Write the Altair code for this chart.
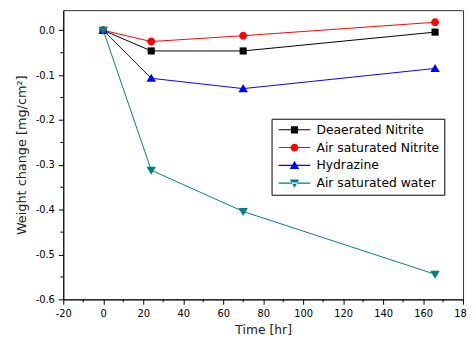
import json
import altair as alt
import pandas as pd

times = [0, 24, 70, 166]
series_names = ["Deaerated Nitrite", "Air saturated Nitrite", "Hydrazine", "Air saturated water"]
deaerated = [0.0, -0.046, -0.046, -0.004]
air_nitrite = [0.0, -0.025, -0.012, 0.018]
hydrazine = [0.0, -0.107, -0.130, -0.085]
air_water = [0.0, -0.312, -0.404, -0.544]
colors = ["#000000", "#ff0000", "#0000ff", "#008080"]
marker_shapes = ["M-0.9,-0.9H0.9V0.9H-0.9Z",
                 "M1,0A1,1,0,1,1,-1,0A1,1,0,1,1,1,0Z",
                 "M0,-1.15L1.2,0.9H-1.2Z",
                 "M0,1.15L1.2,-0.9H-1.2Z"]

x_major = [-20, 0, 20, 40, 60, 80, 100, 120, 140, 160, 180]
x_minor = [-10, 10, 30, 50, 70, 90, 110, 130, 150, 170]
y_major = [-0.6, -0.5, -0.4, -0.3, -0.2, -0.1, 0.0]
y_minor = [-0.55, -0.45, -0.35, -0.25, -0.15, -0.05]

rows = []
for name, vals in zip(series_names, [deaerated, air_nitrite, hydrazine, air_water]):
    for t, v in zip(times, vals):
        rows.append({"series": name, "time": t, "value": v})
df = pd.DataFrame(rows)

# legend symbols: thin filled bar (the line) + the marker
legend_shapes = ["M-4,-0.13H4V0.13H-4Z" + s for s in marker_shapes]

W, H = 405, 293
FONT = "DejaVu Sans"
xscale = alt.Scale(domain=[-20, 180], nice=False, zero=False)
yscale = alt.Scale(domain=[-0.6, 0.045], nice=False, zero=False)
cscale = alt.Scale(domain=series_names, range=colors)

x_enc = alt.X("time:Q", scale=xscale, axis=alt.Axis(
    values=x_major, title="Time [hr]", grid=False, tickSize=5, titleFontSize=12.5,
    labelExpr="datum.value < 0 ? '-' + format(-datum.value, 'd') : format(datum.value, 'd')",
    labelPadding=4, titlePadding=6, labelFlush=False, labelOverlap=False))
y_enc = alt.Y("value:Q", scale=yscale, axis=alt.Axis(
    values=y_major, title="Weight change [mg/cm²]", grid=False, tickSize=5, titleFontSize=13,
    labelExpr="datum.value < 0 ? '-' + format(-datum.value, '.1f') : format(datum.value, '.1f')",
    labelPadding=4, titlePadding=7, labelFlush=False, labelOverlap=False))

legend = alt.Legend(
    title=None, orient="none", legendX=211, legendY=110,
    strokeColor="#000000", fillColor="#ffffff", padding=5,
    labelFont=FONT, labelFontSize=12.5, labelColor="#000000",
    symbolSize=64, symbolOffset=12, labelOffset=16, rowPadding=5,
    symbolStrokeWidth=0,
)

# legend-only layer (no rows drawn): provides line+marker legend symbols
legend_layer = alt.Chart(df).transform_filter("false").mark_point(
    filled=True, size=64, opacity=1, strokeWidth=0
).encode(
    x=x_enc, y=y_enc,
    color=alt.Color("series:N", scale=cscale, legend=legend),
    shape=alt.Shape("series:N", scale=alt.Scale(domain=series_names, range=legend_shapes), legend=legend),
)

lines = alt.Chart(df).mark_line(strokeWidth=1).encode(
    x="time:Q", y="value:Q",
    color=alt.Color("series:N", scale=cscale, legend=legend),
    detail="series:N",
)

shape_expr = f"{json.dumps(marker_shapes)}[indexof({json.dumps(series_names)}, datum.series)]"
points = alt.Chart(df).transform_calculate(shp=shape_expr).mark_point(
    filled=True, size=64, opacity=1, strokeWidth=0
).encode(
    x="time:Q", y="value:Q",
    color=alt.Color("series:N", scale=cscale, legend=legend),
    shape=alt.Shape("shp:N", scale=None),
)

xminor = alt.Chart(pd.DataFrame({"t": x_minor})).mark_rule(color="#000000", strokeWidth=1).encode(
    x=alt.X("t:Q", scale=xscale), y=alt.value(H), y2=alt.value(H + 3))
yminor = alt.Chart(pd.DataFrame({"v": y_minor})).mark_rule(color="#000000", strokeWidth=1).encode(
    y=alt.Y("v:Q", scale=yscale), x=alt.value(0), x2=alt.value(-3))

chart = alt.layer(legend_layer, lines, points, xminor, yminor).properties(
    width=W, height=H,
    autosize=alt.AutoSizeParams(type="none"),
    padding={"left": 56, "top": 0, "right": 4, "bottom": 40},
).configure_view(
    stroke="#333333", strokeWidth=1
).configure_axis(
    domainColor="#000000", tickColor="#000000", labelColor="#000000", titleColor="#222222",
    labelFont=FONT, titleFont=FONT,
    labelFontSize=10, titleFontWeight="normal", domainWidth=1, tickWidth=1,
)

chart.save("out.html", embed_options={"renderer": "svg", "actions": False})
